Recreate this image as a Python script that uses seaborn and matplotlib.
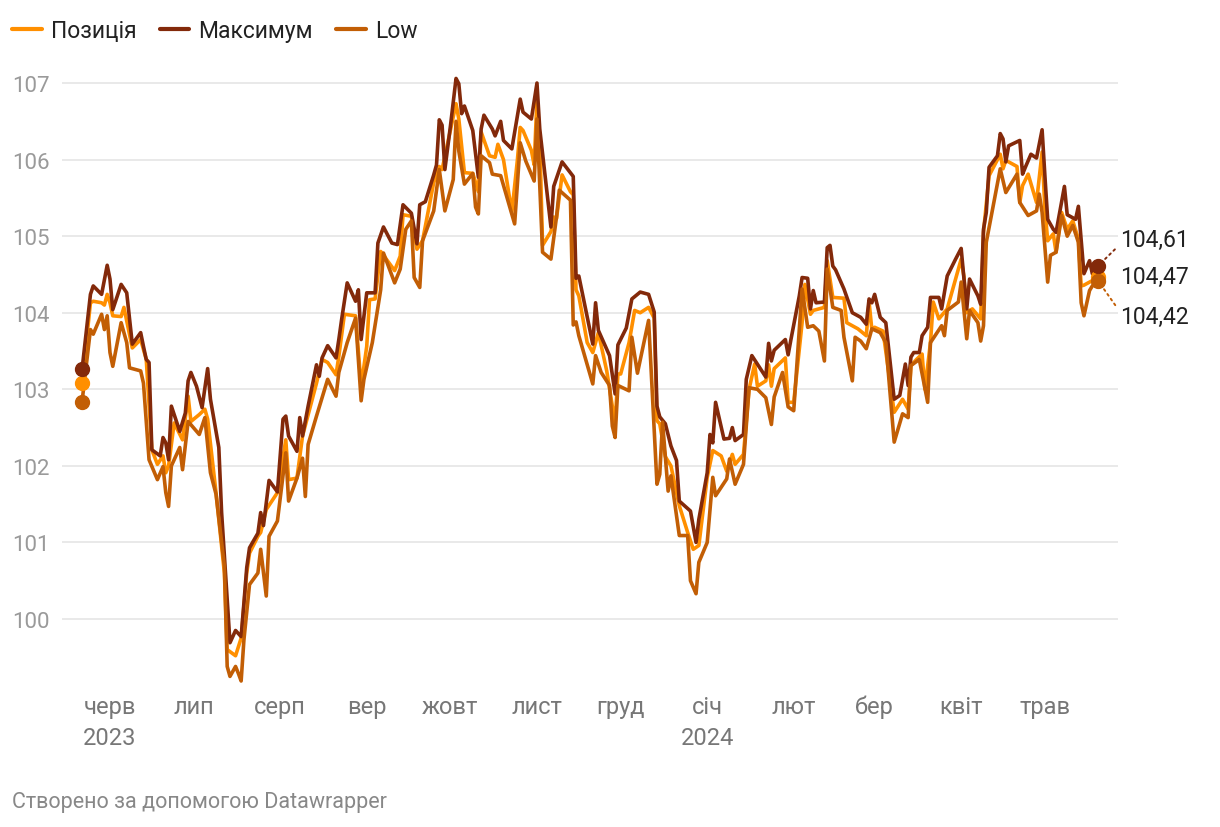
import pandas as pd
import matplotlib
matplotlib.use("Agg")
import matplotlib.pyplot as plt
import matplotlib.dates as mdates
from matplotlib.lines import Line2D
import seaborn as sns

# Series: days counted from the first date, and index values
start = pd.Timestamp("2023-05-22")

high_days = [
    0, 3, 4, 7, 9, 10, 11, 14, 16, 18,
    21, 22, 23, 24, 25, 28, 29, 30, 31, 32,
    35, 37, 38, 39, 41, 43, 45, 46, 49, 50,
    53, 55, 57, 58, 59, 60, 63, 64, 65, 67,
    70, 72, 73, 74, 77, 78, 79, 81, 84, 85,
    86, 88, 91, 92, 93, 95, 98, 99, 100, 102,
    105, 106, 108, 111, 113, 115, 118, 120, 121, 123,
    126, 127, 128, 129, 130, 132, 134, 135, 136, 137,
    140, 142, 143, 144, 147, 148, 150, 151, 154, 157,
    158, 161, 163, 164, 168, 169, 172, 176, 177, 178,
    183, 184, 185, 189, 191, 192, 195, 197, 200, 203,
    205, 206, 207, 209, 211, 213, 214, 218, 220, 221,
    224, 225, 226, 227, 230, 232, 233, 234, 237, 238,
    240, 245, 246, 247, 248, 252, 253, 254, 257, 258,
    260, 261, 262, 263, 266, 267, 268, 269, 270, 273,
    276, 279, 281, 282, 283, 284, 286, 288, 291, 293,
    295, 296, 297, 298, 300, 301, 303, 304, 307, 308,
    310, 313, 315, 317, 318, 321, 322, 323, 324, 325,
    328, 329, 330, 331, 332, 336, 337, 338, 340, 342,
    344, 345, 346, 348, 349, 352, 353, 356, 357, 359,
    361, 362, 364,
]
high_vals = [
    103.26, 104.24, 104.35, 104.24, 104.62, 104.44, 104.04, 104.37, 104.26, 103.59,
    103.74, 103.56, 103.39, 103.35, 102.21, 102.13, 102.37, 102.30, 102.08, 102.78,
    102.45, 102.69, 103.11, 103.22, 103.04, 102.76, 103.27, 102.87, 102.24, 101.39,
    99.69, 99.85, 99.77, 100.21, 100.67, 100.93, 101.12, 101.39, 101.22, 101.81,
    101.66, 102.61, 102.65, 102.39, 102.19, 102.63, 102.39, 102.78, 103.32, 103.17,
    103.41, 103.57, 103.41, 103.65, 103.91, 104.39, 104.15, 104.30, 103.65, 104.26,
    104.26, 104.91, 105.12, 104.91, 104.89, 105.41, 105.30, 104.90, 105.41, 105.45,
    105.80, 105.93, 106.52, 106.45, 105.87, 106.44, 107.06, 106.99, 106.60, 106.70,
    106.38, 105.77, 106.40, 106.58, 106.40, 106.31, 106.50, 106.25, 106.14, 106.79,
    106.62, 106.53, 107.00, 106.40, 105.12, 105.65, 105.97, 105.78, 104.45, 104.48,
    103.59, 104.13, 103.77, 103.44, 102.94, 103.58, 103.80, 104.18, 104.27, 104.24,
    104.01, 102.78, 102.64, 102.55, 102.26, 102.07, 101.54, 101.41, 101.00, 101.30,
    101.91, 102.41, 102.30, 102.83, 102.35, 102.36, 102.50, 102.33, 102.41, 103.13,
    103.44, 103.16, 103.60, 103.37, 103.51, 103.65, 103.45, 103.65, 104.22, 104.46,
    104.45, 104.05, 104.29, 104.13, 104.14, 104.85, 104.88, 104.61, 104.56, 104.31,
    104.00, 103.94, 103.85, 104.18, 104.13, 104.24, 103.94, 103.87, 102.87, 102.92,
    103.33, 103.05, 103.42, 103.48, 103.48, 103.70, 103.81, 104.20, 104.20, 104.05,
    104.48, 104.70, 104.84, 104.05, 104.44, 104.22, 104.11, 105.09, 105.31, 105.90,
    106.05, 106.34, 106.27, 105.97, 106.18, 106.25, 105.81, 105.90, 106.07, 106.02,
    106.39, 105.79, 105.22, 105.09, 105.05, 105.65, 105.28, 105.22, 105.39, 104.51,
    104.68, 104.51, 104.61,
]

pos_days = [
    0, 3, 4, 7, 8, 9, 10, 11, 14, 15,
    18, 21, 23, 25, 27, 29, 30, 31, 33, 36,
    38, 39, 42, 44, 45, 48, 51, 52, 55, 57,
    59, 60, 63, 64, 66, 70, 73, 74, 77, 79,
    84, 86, 88, 91, 92, 94, 98, 100, 102, 103,
    105, 107, 112, 114, 115, 118, 120, 122, 126, 128,
    129, 134, 135, 137, 140, 142, 143, 146, 148, 149,
    151, 154, 156, 157, 158, 161, 162, 163, 164, 165,
    168, 169, 170, 172, 175, 176, 177, 178, 181, 183,
    185, 188, 191, 192, 193, 196, 198, 200, 203, 205,
    206, 207, 209, 211, 214, 217, 219, 221, 224, 226,
    229, 231, 233, 234, 237, 239, 241, 242, 245, 246,
    247, 248, 252, 253, 255, 258, 259, 261, 262, 266,
    267, 269, 273, 274, 278, 281, 282, 283, 284, 287,
    291, 294, 296, 297, 299, 301, 302, 304, 305, 307,
    310, 315, 316, 317, 319, 322, 323, 325, 329, 330,
    331, 335, 336, 337, 339, 342, 344, 345, 346, 348,
    349, 351, 353, 355, 357, 358, 359, 362, 364,
]
pos_vals = [
    103.08, 104.13, 104.15, 104.13, 104.10, 104.24, 104.13, 103.96, 103.95, 104.07,
    103.54, 103.65, 103.39, 102.21, 102.02, 102.13, 101.91, 102.00, 102.56, 102.34,
    102.91, 102.58, 102.67, 102.74, 102.61, 101.65, 100.60, 99.60, 99.52, 99.75,
    100.60, 100.86, 101.08, 101.13, 101.43, 101.65, 102.34, 101.82, 101.84, 102.39,
    103.08, 103.39, 103.35, 103.19, 103.43, 103.98, 103.96, 103.04, 103.56, 104.17,
    104.18, 104.80, 104.55, 104.74, 105.28, 105.26, 104.83, 104.94, 105.70, 105.91,
    105.87, 106.73, 106.53, 105.83, 105.82, 105.58, 106.36, 106.05, 106.03, 106.20,
    106.00, 105.31, 106.00, 106.42, 106.38, 106.12, 105.93, 106.79, 106.27, 104.88,
    105.06, 105.25, 105.23, 105.80, 105.58, 105.54, 104.30, 104.22, 103.61, 103.48,
    103.74, 103.24, 102.55, 103.20, 103.20, 103.61, 104.03, 104.00, 104.07, 103.93,
    102.59, 102.55, 102.12, 102.00, 101.48, 101.13, 100.91, 100.96, 101.85, 102.20,
    102.13, 101.93, 102.15, 102.02, 102.15, 103.00, 103.33, 103.04, 103.11, 103.32,
    103.04, 103.27, 103.41, 102.83, 102.83, 103.87, 104.37, 103.98, 104.03, 104.07,
    104.68, 104.20, 104.19, 103.87, 103.79, 103.70, 104.14, 103.78, 103.81, 103.76,
    102.70, 102.87, 102.74, 103.31, 103.39, 103.46, 103.00, 103.61, 104.14, 103.92,
    104.05, 104.70, 104.47, 104.00, 104.05, 103.92, 105.05, 105.79, 106.07, 105.88,
    105.99, 105.91, 105.44, 105.66, 105.81, 105.44, 106.10, 105.36, 104.94, 105.03,
    104.79, 105.31, 105.09, 105.20, 104.96, 104.35, 104.36, 104.42, 104.47,
]

low_days = [
    0, 3, 4, 7, 8, 9, 10, 11, 14, 16,
    17, 21, 22, 24, 27, 29, 30, 31, 32, 35,
    36, 38, 42, 44, 46, 48, 51, 52, 53, 55,
    56, 57, 58, 60, 63, 64, 66, 67, 70, 73,
    74, 77, 79, 80, 81, 84, 88, 91, 92, 95,
    98, 100, 101, 104, 106, 107, 108, 112, 114, 116,
    118, 119, 121, 122, 126, 128, 130, 133, 134, 135,
    137, 140, 141, 142, 143, 146, 147, 150, 155, 157,
    159, 162, 163, 165, 168, 170, 171, 175, 176, 177,
    178, 183, 184, 186, 189, 190, 191, 192, 196, 197,
    199, 203, 206, 207, 208, 210, 211, 214, 217, 218,
    220, 221, 224, 226, 227, 231, 232, 234, 237, 239,
    242, 245, 247, 248, 251, 253, 255, 258, 260, 262,
    264, 266, 267, 269, 272, 273, 276, 277, 279, 281,
    283, 286, 288, 291, 294, 296, 297, 300, 303, 304,
    308, 309, 310, 314, 315, 317, 318, 321, 322, 323,
    324, 329, 331, 335, 336, 339, 342, 343, 344, 346,
    347, 349, 351, 353, 355, 357, 358, 359, 361, 362,
    364,
]
low_vals = [
    102.84, 103.78, 103.72, 103.98, 103.78, 103.96, 103.48, 103.30, 103.87, 103.61,
    103.28, 103.24, 103.08, 102.08, 101.82, 101.99, 101.65, 101.47, 102.00, 102.24,
    101.95, 102.58, 102.41, 102.63, 101.91, 101.63, 100.69, 99.38, 99.25, 99.38,
    99.29, 99.19, 99.73, 100.45, 100.60, 100.91, 100.30, 101.08, 101.28, 102.17,
    101.54, 101.84, 102.10, 101.60, 102.28, 102.65, 103.13, 102.91, 103.22, 103.61,
    103.93, 102.85, 103.13, 103.61, 104.07, 104.30, 104.78, 104.39, 104.57, 105.09,
    105.20, 104.46, 104.33, 104.94, 105.33, 105.87, 105.33, 105.74, 106.50, 106.11,
    105.68, 105.82, 105.38, 105.29, 106.05, 105.96, 105.81, 105.79, 105.16, 106.22,
    105.98, 105.72, 106.53, 104.79, 104.70, 105.25, 105.60, 105.47, 103.84, 103.88,
    103.70, 103.07, 103.44, 103.22, 103.05, 102.52, 102.37, 103.05, 102.98, 103.68,
    103.21, 103.90, 101.76, 101.89, 102.57, 101.67, 101.87, 101.09, 101.09, 100.50,
    100.33, 100.74, 101.00, 101.85, 101.61, 101.83, 102.09, 101.76, 102.02, 103.02,
    103.00, 102.89, 102.54, 102.90, 103.22, 102.77, 102.72, 104.31, 103.81, 103.83,
    103.76, 103.37, 104.57, 104.07, 104.03, 103.68, 103.11, 103.68, 103.63, 103.53,
    103.79, 103.74, 103.61, 102.31, 102.68, 102.63, 103.31, 103.39, 102.83, 103.61,
    103.83, 103.70, 104.03, 104.14, 104.40, 103.66, 104.03, 103.87, 103.63, 103.83,
    104.92, 105.88, 105.57, 105.81, 105.44, 105.27, 105.33, 105.55, 105.31, 104.40,
    104.75, 104.79, 105.27, 105.00, 105.14, 104.92, 104.13, 103.96, 104.29, 104.35,
    104.42,
]

series_names = ["Позиція", "Максимум", "Low"]
colors = {"Позиція": "#ff8f00", "Максимум": "#83290a", "Low": "#c25e05"}
month_labels = ["черв\n2023", "лип", "серп", "вер", "жовт", "лист", "груд",
                "січ\n2024", "лют", "бер", "квіт", "трав"]
y_ticks = [100, 101, 102, 103, 104, 105, 106, 107]

frames = []
for name, days, vals in [("Позиція", pos_days, pos_vals),
                         ("Максимум", high_days, high_vals),
                         ("Low", low_days, low_vals)]:
    assert len(days) == len(vals), name
    frames.append(pd.DataFrame({
        "date": start + pd.to_timedelta(days, unit="D"),
        "value": vals,
        "series": name,
    }))
df = pd.concat(frames, ignore_index=True)

sns.set_theme(style="white")
plt.rcParams["font.family"] = ["Roboto", "DejaVu Sans"]

fig = plt.figure(figsize=(12.2, 8.28), dpi=100)
ax = fig.add_axes([0.0508, 0.168, 0.8656, 0.749])

sns.lineplot(data=df, x="date", y="value", hue="series", hue_order=series_names,
             palette=colors, estimator=None, linewidth=2.6, legend=False, ax=ax)
for line in ax.get_lines():
    line.set_solid_joinstyle("round")
    line.set_solid_capstyle("round")

# start and end dots
for name in series_names:
    sub = df[df["series"] == name]
    ax.plot([sub["date"].iloc[0], sub["date"].iloc[-1]],
            [sub["value"].iloc[0], sub["value"].iloc[-1]],
            "o", color=colors[name], markersize=10, zorder=5)

# end value labels
end_date = df["date"].max()
last = {n: df[df["series"] == n]["value"].iloc[-1] for n in series_names}
fmt = lambda v: f"{v:.2f}".replace(".", ",")
ax.annotate(fmt(last["Максимум"]), xy=(end_date, last["Максимум"]),
            xytext=(16, 19), textcoords="offset points", ha="left", va="center",
            fontsize=16.5, color="#222222", annotation_clip=False,
            arrowprops=dict(arrowstyle="-", linestyle=(0, (1, 2)), lw=1.4,
                            color=colors["Максимум"], shrinkA=2, shrinkB=6,
                            relpos=(0, 0.3)))
ax.annotate(fmt(last["Позиція"]), xy=(end_date, last["Позиція"]),
            xytext=(16, 0), textcoords="offset points", ha="left", va="center",
            fontsize=16.5, color="#222222", annotation_clip=False)
ax.annotate(fmt(last["Low"]), xy=(end_date, last["Low"]),
            xytext=(16, -26), textcoords="offset points", ha="left", va="center",
            fontsize=16.5, color="#222222", annotation_clip=False,
            arrowprops=dict(arrowstyle="-", linestyle=(0, (1, 2)), lw=1.4,
                            color=colors["Low"], shrinkA=2, shrinkB=6,
                            relpos=(0, 0.7)))

x0 = mdates.date2num(start)
ax.set_xlim(x0 - 7.2, x0 + 371.2)
ax.set_ylim(99.1, 107.2)
ax.set_yticks(y_ticks)
ax.set_yticklabels([str(t) for t in y_ticks])
ax.set_xticks(pd.date_range("2023-06-01", "2024-05-01", freq="MS"))
ax.set_xticklabels(month_labels)
for lbl in ax.get_xticklabels():
    lbl.set_linespacing(1.45)

ax.grid(axis="y", color="#e3e3e3", linewidth=1.1)
ax.grid(axis="x", visible=False)
ax.set_axisbelow(True)
for s in ax.spines.values():
    s.set_visible(False)
ax.tick_params(axis="y", length=0, pad=9, labelsize=16, labelcolor="#9a9a9a")
ax.tick_params(axis="x", length=0, pad=5, labelsize=17, labelcolor="#777777")
ax.set_xlabel("")
ax.set_ylabel("")

handles = [Line2D([0], [0], color=colors[n], lw=3, solid_capstyle="round") for n in series_names]
fig.legend(handles, series_names, loc="upper left",
           bbox_to_anchor=(12 / 1220, 1 - 20 / 828),
           ncol=3, frameon=False, fontsize=16.5, handlelength=1.3,
           handletextpad=0.4, columnspacing=1.0, borderaxespad=0, borderpad=0,
           labelcolor="#222222")

fig.text(12 / 1220, 1 - 803 / 828, "Створено за допомогою Datawrapper",
         fontsize=15.5, color="#888888", ha="left", va="center")

fig.savefig("out.png", dpi=100)
